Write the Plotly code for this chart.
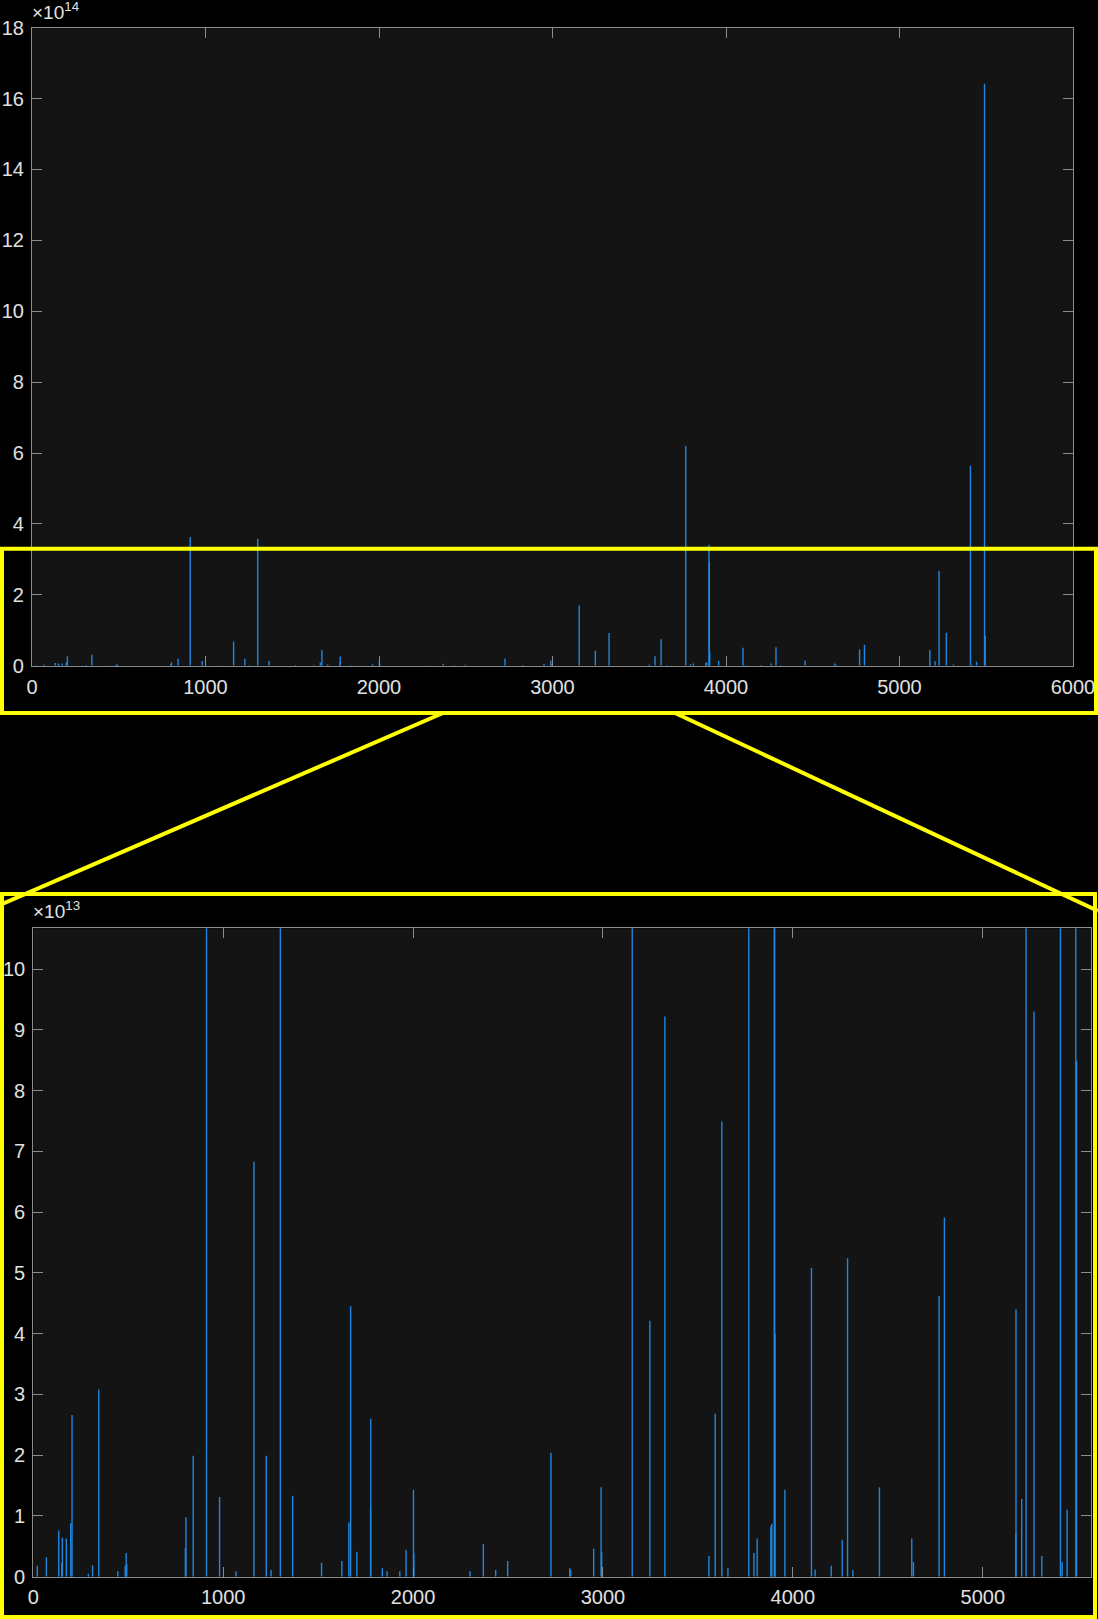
import plotly.graph_objects as go

# ---- data ----
spike_x = [21, 69, 134, 150, 153, 174, 197, 204, 290, 312, 345, 445, 484, 489, 492,
           801, 804, 842, 912, 981, 1067, 1162, 1227, 1252, 1301, 1366, 1518, 1625,
           1662, 1671, 1704, 1776, 1777, 1838, 1863, 1930, 1963, 2002, 2004, 2300,
           2370, 2435, 2498, 2726, 2825, 2830, 2951, 2990, 2993, 3154, 3247, 3326,
           3558, 3591, 3626, 3658, 3768, 3795, 3812, 3884, 3889, 3902, 3904, 3906,
           3958, 4098, 4117, 4202, 4260, 4288, 4316, 4456, 4626, 4635, 4770, 4798,
           5174, 5175, 5205, 5228, 5270, 5311, 5409, 5418, 5444, 5490, 5494]
spike_e13 = [0.18, 0.32, 0.76, 0.23, 0.64, 0.63, 0.88, 2.66, 0.05, 0.19, 3.08, 0.09, 0.18, 0.39, 0.21,
             0.47, 0.98, 1.99, 36.3, 1.31, 0.09, 6.83, 1.99, 0.11, 35.8, 1.33, 0.23, 0.26,
             0.89, 4.45, 0.41, 1.11, 2.6, 0.14, 0.09, 0.09, 0.44, 1.43, 0.38, 0.09,
             0.54, 0.11, 0.26, 2.04, 0.14, 0.11, 0.46, 1.47, 0.40, 17.0, 4.21, 9.22,
             0.34, 2.68, 7.49, 0.14, 62.0, 0.39, 0.63, 0.83, 0.87, 34.1, 29.3, 4.0,
             1.43, 5.08, 0.12, 0.18, 0.61, 5.24, 0.11, 1.47, 0.63, 0.24, 4.62, 5.91,
             0.71, 4.40, 1.28, 26.7, 9.30, 0.34, 56.4, 0.24, 1.10, 164.2, 8.49]
spike_values = [v * 1e13 for v in spike_e13]

top_xticks = [0, 1000, 2000, 3000, 4000, 5000, 6000]
top_yticks_scaled = [0, 2, 4, 6, 8, 10, 12, 14, 16, 18]
bot_xticks = [0, 1000, 2000, 3000, 4000, 5000]
bot_yticks_scaled = [0, 1, 2, 3, 4, 5, 6, 7, 8, 9, 10]

# ---- build stems ----
sx, sy = [], []
for xv, yv in zip(spike_x, spike_values):
    sx += [xv, xv, None]
    sy += [0, yv, None]

W, H = 1098, 1619
def fx(p):
    return p / W
def fy(p):
    return 1 - p / H

BLUE = "rgb(33,134,222)"
AX = "#8c8c8c"
TXT = "#e0e0e0"
FAM = "Liberation Sans, Arial, sans-serif"
FONT = dict(family=FAM, size=20, color=TXT)

fig = go.Figure()
fig.add_trace(go.Scatter(x=sx, y=sy, mode="lines", line=dict(color=BLUE, width=1.4),
                         xaxis="x", yaxis="y", hoverinfo="skip", showlegend=False))
fig.add_trace(go.Scatter(x=sx, y=sy, mode="lines", line=dict(color=BLUE, width=1.4),
                         xaxis="x2", yaxis="y2", hoverinfo="skip", showlegend=False))

common = dict(showgrid=False, zeroline=False, showline=True, linecolor=AX, linewidth=1.2,
              mirror="ticks", ticks="inside", ticklen=10, tickcolor=AX, tickwidth=1.2,
              tickfont=FONT, automargin=False)

fig.update_layout(
    width=W, height=H,
    margin=dict(l=0, r=0, t=0, b=0, pad=0, autoexpand=False),
    paper_bgcolor="black", plot_bgcolor="#141414",
    showlegend=False,
    xaxis=dict(domain=[fx(32), fx(1073)], range=[0, 6000], tickvals=top_xticks,
               ticktext=[str(t) for t in top_xticks], anchor="y", ticklabelstandoff=3, **common),
    yaxis=dict(domain=[fy(665.7), fy(27.7)], range=[0, 18e14],
               tickvals=[t * 1e14 for t in top_yticks_scaled],
               ticktext=[str(t) for t in top_yticks_scaled], anchor="x", ticklabelstandoff=3, **common),
    xaxis2=dict(domain=[fx(33.3), fx(1091)], range=[0, 5570], tickvals=bot_xticks,
                ticktext=[str(t) for t in bot_xticks], anchor="y2", ticklabelstandoff=2, **common),
    yaxis2=dict(domain=[fy(1576.7), fy(928.3)], range=[0, 10.67e13],
                tickvals=[t * 1e13 for t in bot_yticks_scaled],
                ticktext=[str(t) for t in bot_yticks_scaled], anchor="x2", ticklabelstandoff=3, **common),
)

# exponent labels
fig.add_annotation(x=fx(30), y=fy(25), xref="paper", yref="paper", xanchor="left", yanchor="bottom",
                   text="×10<sup>14</sup>", showarrow=False,
                   font=dict(family=FAM, size=19, color=TXT))
fig.add_annotation(x=fx(31), y=fy(924), xref="paper", yref="paper", xanchor="left", yanchor="bottom",
                   text="×10<sup>13</sup>", showarrow=False,
                   font=dict(family=FAM, size=19, color=TXT))

# zoom-indicator rectangles and connector lines
Y = "#ffff00"
fig.add_shape(type="rect", xref="paper", yref="paper", x0=fx(2), x1=fx(1096), y0=fy(713), y1=fy(548.7),
              line=dict(color=Y, width=4), fillcolor="rgba(0,0,0,0)")
fig.add_shape(type="rect", xref="paper", yref="paper", x0=fx(2), x1=fx(1095), y0=fy(1617), y1=fy(894),
              line=dict(color=Y, width=4), fillcolor="rgba(0,0,0,0)")
fig.add_shape(type="line", xref="paper", yref="paper", x0=fx(443), y0=fy(713), x1=fx(0), y1=fy(905),
              line=dict(color=Y, width=4))
fig.add_shape(type="line", xref="paper", yref="paper", x0=fx(675), y0=fy(713), x1=fx(1098), y1=fy(911),
              line=dict(color=Y, width=4))

fig.write_html("out.html")
